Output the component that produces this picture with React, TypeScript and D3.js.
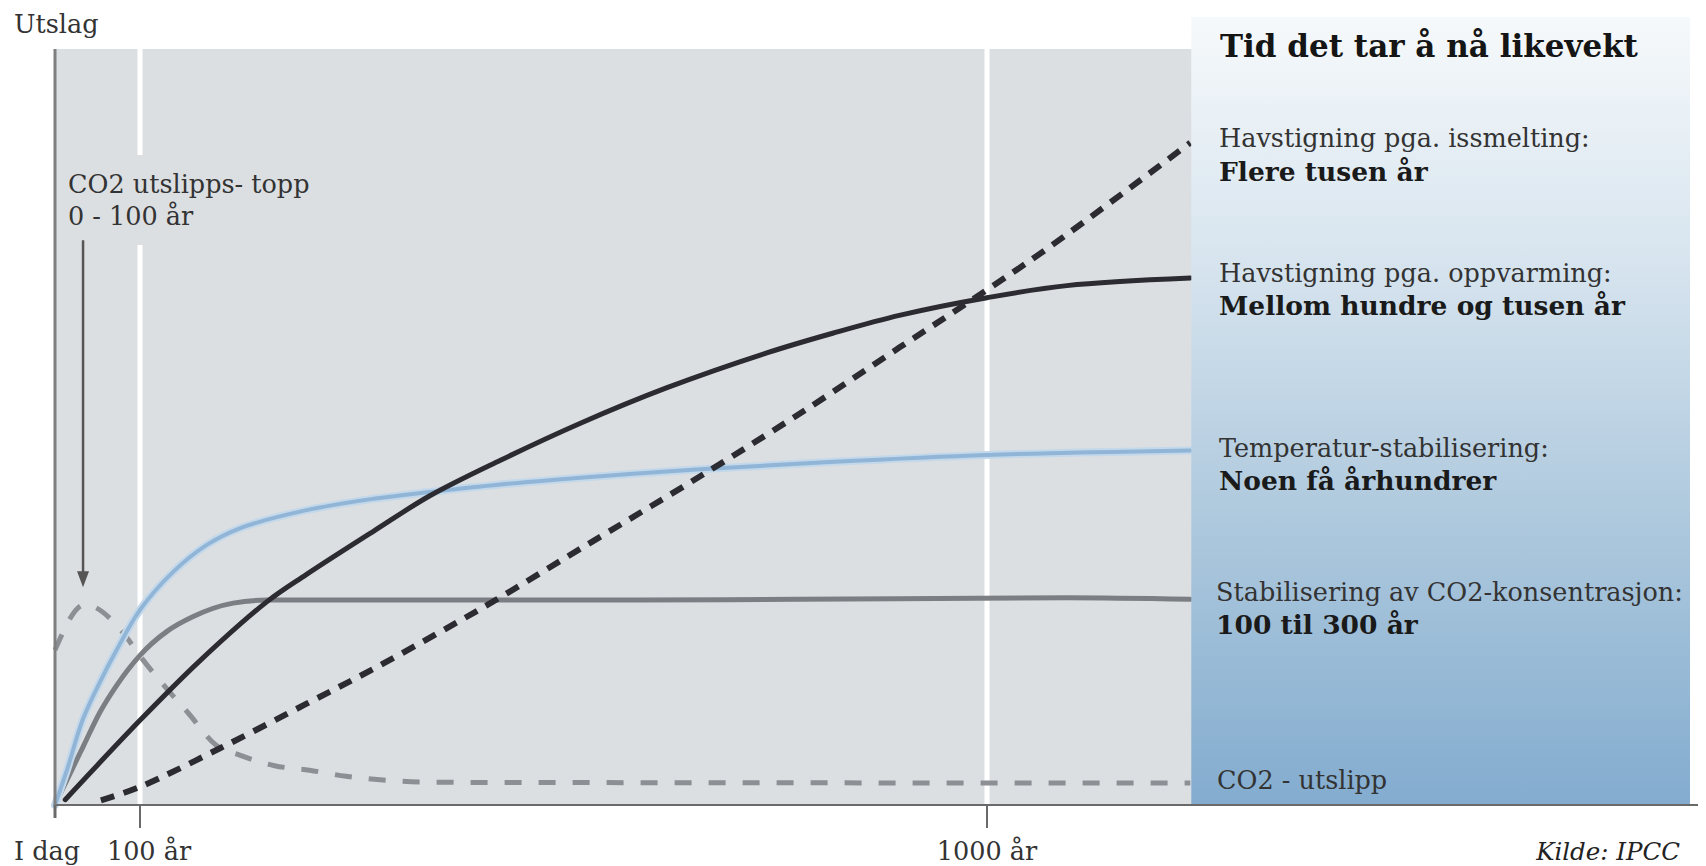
import React from 'react';
import * as d3 from 'd3';

const W = 1706;
const H = 866;

// X axis ticks (years from today)
const tickYears = [0, 100, 1000];
const tickLabels = ['I dag', '100 år', '1000 år'];
const xMaxYear = 1216;

// Temperatur-stabilisering (light blue)
const tempYears = [0, 14, 33, 53, 73, 100, 135, 171, 206, 277, 348, 408, 483, 589, 695, 823, 1000, 1216];
const tempValues = [0, 4.6, 11.4, 16.3, 20.6, 25.8, 30.8, 34.4, 36.6, 39.0, 40.5, 41.4, 42.4, 43.5, 44.4, 45.3, 46.3, 46.9];

// Stabilisering av CO2-konsentrasjon (gray)
const concYears = [0, 14, 33, 53, 73, 100, 129, 156, 199, 235, 589, 801, 1085, 1216];
const concValues = [0, 3.3, 7.7, 12.3, 15.9, 19.8, 23.0, 24.9, 26.7, 27.1, 27.1, 27.2, 27.4, 27.2];

// Havstigning pga. oppvarming (black)
const warmYears = [12, 100, 163, 235, 277, 348, 408, 483, 568, 660, 766, 836, 908, 1000, 1085, 1216];
const warmValues = [0.7, 11.2, 19.0, 26.9, 30.5, 36.2, 40.9, 45.6, 50.5, 55.2, 59.8, 62.4, 64.8, 67.1, 68.7, 69.7];

// Havstigning pga. issmelting (black dashed)
const iceYears = [54, 100, 185, 277, 348, 419, 475, 568, 702, 815, 908, 979, 1064, 1216];
const iceValues = [0.6, 2.4, 7.5, 13.4, 18.0, 22.9, 26.9, 33.9, 44.0, 52.9, 60.6, 66.4, 73.6, 87.6];

// CO2 - utslipp (gray dashed)
const emisYears = [0, 35, 80, 100, 127, 151, 181, 206, 243, 280, 319, 419, 1216];
const emisValues = [20.5, 26.5, 22.8, 19.7, 15.6, 12.2, 7.9, 6.6, 5.2, 4.6, 3.8, 3.0, 2.9];

// Peak annotation arrow (year, from value, to value)
const arrowYear = 33;
const arrowFrom = 74.7;
const arrowTo = 28.8;

const serif = "'DejaVu Serif', serif";

export default function App() {
  const x = d3.scaleLinear().domain([0, 100, 1000]).range([55, 140, 987]);
  const y = d3.scaleLinear().domain([0, 100]).range([805, 49]);

  const x0 = x(0);
  const x1 = x(xMaxYear);
  const yTop = y(100);
  const yBot = y(0);

  const mk = (ys: number[], vs: number[], curve: d3.CurveFactory) =>
    d3
      .line<number>()
      .x((_, i) => x(ys[i]))
      .y((v) => y(v))
      .curve(curve)(vs) || '';

  const smooth = d3.curveCatmullRom.alpha(0.5);
  const tempPath = mk(tempYears, tempValues, smooth);
  const concPath = mk(concYears, concValues, d3.curveMonotoneX);
  const warmPath = mk(warmYears, warmValues, smooth);
  const icePath = mk(iceYears, iceValues, smooth);
  const emisPath = mk(emisYears, emisValues, d3.curveMonotoneX);

  const ax = x(arrowYear);
  const ay0 = y(arrowFrom);
  const ay1 = y(arrowTo);

  const panelX = x1 + 1;
  const tx = 1219;

  return (
    <svg
      width={W}
      height={H}
      style={{ position: 'absolute', left: 0, top: 0, background: '#fff' }}
      fontFamily={serif}
    >
      <defs>
        <linearGradient id="panelGrad" x1="0" y1="0" x2="0" y2="1">
          <stop offset="0%" stopColor="#f6f9fb" />
          <stop offset="30%" stopColor="#d8e5ef" />
          <stop offset="62%" stopColor="#b0cade" />
          <stop offset="100%" stopColor="#83accf" />
        </linearGradient>
      </defs>

      {/* plot background */}
      <rect x={x0} y={yTop} width={x1 - x0 + 2} height={yBot - yTop} fill="#dcdfe2" />

      {/* white grid lines at 100 and 1000 years */}
      {tickYears.slice(1).map((t) => (
        <line key={t} x1={x(t)} x2={x(t)} y1={yTop} y2={yBot} stroke="#ffffff" strokeWidth={5} />
      ))}

      {/* annotation background */}
      <rect x={62} y={155} width={258} height={90} fill="#dcdfe2" />

      {/* series */}
      <path d={emisPath} fill="none" stroke="#8c8f93" strokeWidth={5} strokeDasharray="17 17" />
      <path d={concPath} fill="none" stroke="#7b7e82" strokeWidth={5} strokeLinecap="round" />
      <path d={tempPath} fill="none" stroke="#c3d8ea" strokeWidth={8} strokeLinecap="round" />
      <path d={tempPath} fill="none" stroke="#91b5d6" strokeWidth={4} strokeLinecap="round" />
      <path d={warmPath} fill="none" stroke="#2b2b31" strokeWidth={5} strokeLinecap="round" />
      <path d={icePath} fill="none" stroke="#2b2b31" strokeWidth={6} strokeDasharray="14 10" />

      {/* right panel */}
      <rect x={panelX} y={17} width={1690 - panelX} height={yBot - 17} fill="url(#panelGrad)" />

      {/* axes */}
      <line x1={x0} x2={1698} y1={yBot} y2={yBot} stroke="#6a6a6a" strokeWidth={2} />
      <line x1={x0} x2={x0} y1={yTop} y2={yBot} stroke="#7f7f7f" strokeWidth={3} />
      {tickYears.map((t, i) => (
        <g key={t}>
          <line x1={x(t)} x2={x(t)} y1={yBot} y2={i === 0 ? 818 : 828} stroke="#6a6a6a" strokeWidth={i === 0 ? 3 : 2} />
          <text
            x={x(t) + (i === 0 ? -8 : i === 1 ? 9 : 0)}
            y={860}
            fontSize={25.5}
            fill="#333"
            textAnchor="middle"
          >
            {tickLabels[i]}
          </text>
        </g>
      ))}

      {/* y label */}
      <text x={14} y={33} fontSize={25.5} fill="#333">Utslag</text>

      {/* peak annotation */}
      <text x={68} y={193} fontSize={25.5} fill="#333">CO2 utslipps- topp</text>
      <text x={68} y={225} fontSize={25.5} fill="#333">0 - 100 år</text>
      <line x1={ax} x2={ax} y1={ay0} y2={ay1 - 14} stroke="#555" strokeWidth={2.5} />
      <path d={`M${ax - 6},${ay1 - 16} L${ax + 6},${ay1 - 16} L${ax},${ay1} Z`} fill="#555" />

      {/* panel texts */}
      <text x={tx + 1} y={57} fontSize={31} fontWeight="bold" fill="#151515">Tid det tar å nå likevekt</text>

      <text x={tx} y={147} fontSize={25.5} fill="#333">Havstigning pga. issmelting:</text>
      <text x={tx} y={181} fontSize={26.5} fontWeight="bold" fill="#1a1a1a">Flere tusen år</text>

      <text x={tx} y={282} fontSize={25.5} fill="#333">Havstigning pga. oppvarming:</text>
      <text x={tx} y={315} fontSize={26.5} fontWeight="bold" fill="#1a1a1a">Mellom hundre og tusen år</text>

      <text x={tx} y={457} fontSize={25.5} fill="#333">Temperatur-stabilisering:</text>
      <text x={tx} y={490} fontSize={26.5} fontWeight="bold" fill="#1a1a1a">Noen få århundrer</text>

      <text x={tx - 3} y={601} fontSize={25.5} fill="#333">Stabilisering av CO2-konsentrasjon:</text>
      <text x={tx - 3} y={634} fontSize={26.5} fontWeight="bold" fill="#1a1a1a">100 til 300 år</text>

      <text x={tx - 2} y={789} fontSize={25.5} fill="#333">CO2 - utslipp</text>

      <text x={1680} y={860} fontSize={24.5} fontStyle="italic" fill="#222" textAnchor="end">Kilde: IPCC</text>
    </svg>
  );
}
